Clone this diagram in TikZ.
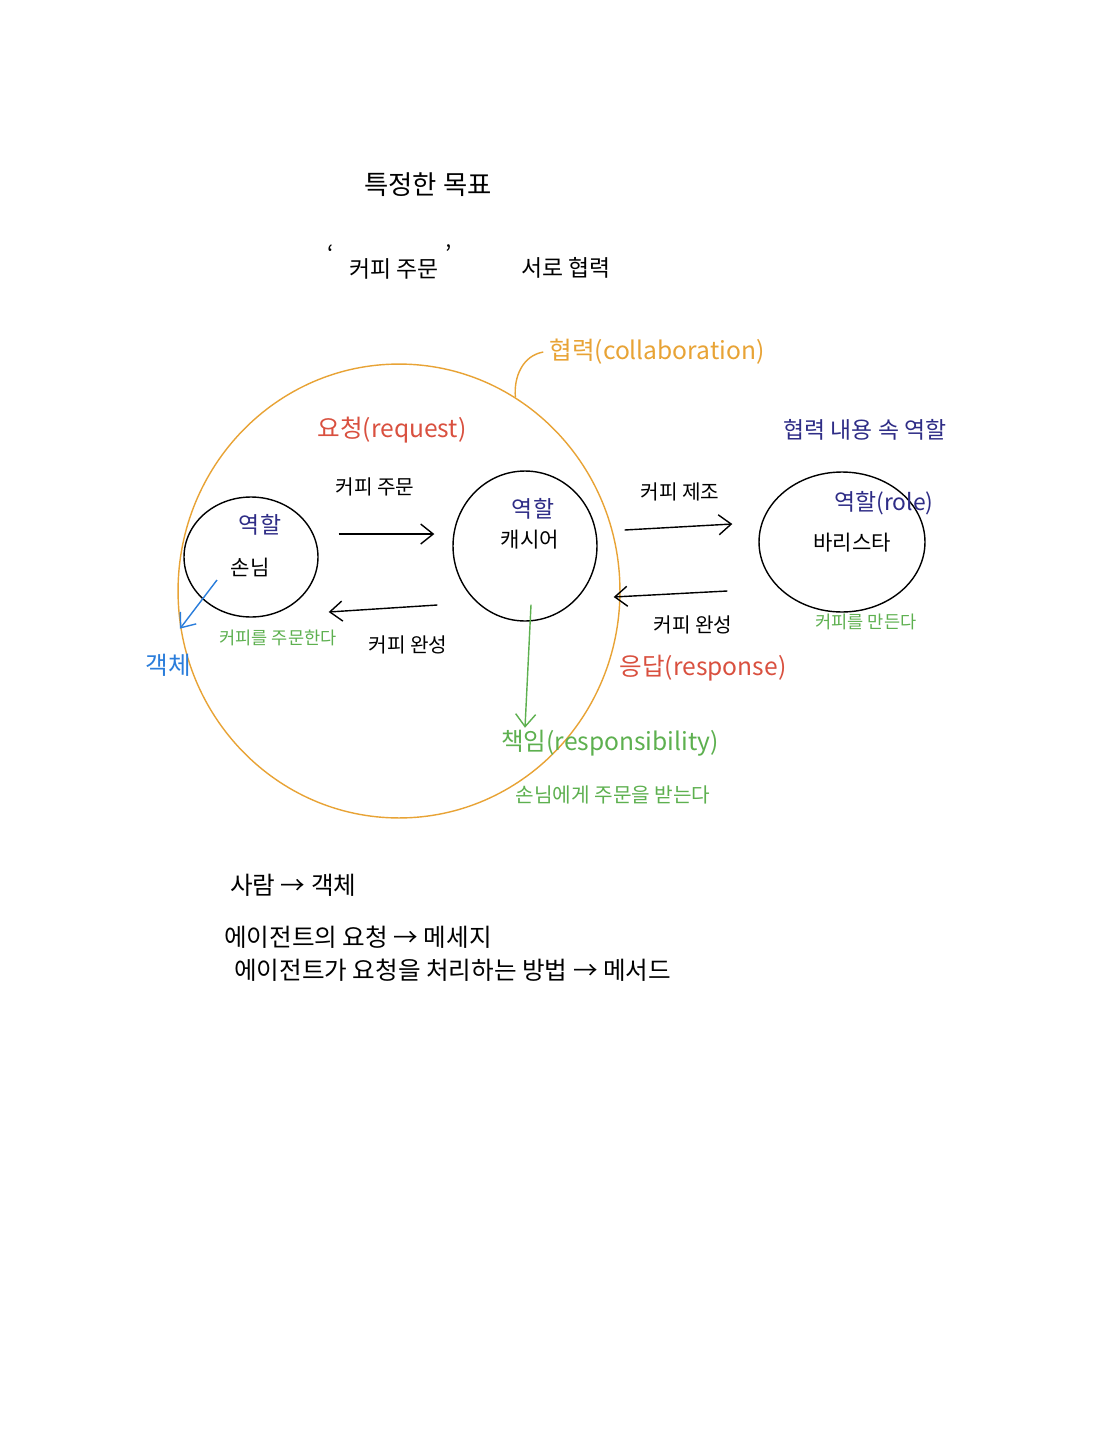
\documentclass[tikz,border=0pt]{standalone}
\usepackage{fontspec}
\setmainfont{Noto Sans CJK KR}
\usepackage{tikz}
\usetikzlibrary{positioning, arrows.meta, shapes.geometric, calc}
\definecolor{collabor}{HTML}{E8A335}
\definecolor{reqred}{HTML}{D9503F}
\definecolor{rolepurple}{HTML}{2E2C86}
\definecolor{dutygreen}{HTML}{5DB04F}
\definecolor{objblue}{HTML}{2A7DDB}

\begin{document}
\begin{tikzpicture}[x=0.02cm, y=-0.02cm,
    rolecircle/.style={draw=black, line width=0.8pt, ellipse, inner sep=0pt},
    collabcircle/.style={draw=collabor, line width=0.8pt, ellipse, inner sep=0pt},
    titletxt/.style={font=\fontsize{15}{17}\selectfont},
    midtxt/.style={font=\fontsize{13}{15}\selectfont},
    smalltxt/.style={font=\fontsize{11.5}{13}\selectfont},
    roletxt/.style={text=rolepurple, font=\fontsize{13}{15}\selectfont},
    nametxt/.style={font=\fontsize{12}{14}\selectfont},
    labeltxt/.style={font=\fontsize{14}{16}\selectfont},
    dutytxt/.style={text=dutygreen, font=\fontsize{10}{12}\selectfont},
    notetxt/.style={anchor=west, font=\fontsize{14}{16}\selectfont},
    msgarrow/.style={-{Straight Barb[length=2.5mm, width=4mm]}, line width=0.8pt},
]
\fill[white] (0,0) rectangle (1112,1440);
\useasboundingbox (0,0) rectangle (1112,1440);

% goal
\node[titletxt] (goal) at (428,185) {특정한 목표};
\node[midtxt] (order) at (390,262) {\raisebox{0.3cm}{‘}\hspace{0.3cm}커피 주문\hspace{0.15cm}\raisebox{0.3cm}{’}};
\node[midtxt] (coop) at (566,268) {서로 협력};

% collaboration
\node[collabcircle, minimum width=8.84cm, minimum height=9.08cm] (collab) at (399,591) {};
\node[labeltxt, text=collabor] (collabLbl) at (657,352) {협력(collaboration)};
\draw[collabor, line width=0.8pt] (collab.59) to[out=95, in=190] (collabLbl.west);

% roles
\node[rolecircle, minimum width=2.68cm, minimum height=2.4cm] (guest) at (251,557) {};
\node[roletxt] (guestRole) at (260,525) {역할};
\node[nametxt] (guestName) at (250,567) {손님};

\node[rolecircle, minimum width=2.88cm, minimum height=3.0cm] (cashier) at (525,546) {};
\node[roletxt] (cashierRole) at (533,509) {역할};
\node[nametxt] (cashierName) at (530,540) {캐시어};

\node[rolecircle, minimum width=3.32cm, minimum height=2.8cm] (barista) at (842,542) {};
\node[roletxt] (baristaRole) at (884,503) {역할(role)};
\node[nametxt] (baristaName) at (852,543) {바리스타};

\node[roletxt] (inRole) at (865,430) {협력 내용 속 역할};
\node[labeltxt, text=reqred] (req) at (392,430) {요청(request)};
\node[labeltxt, text=reqred] (res) at (703,668) {응답(response)};

% messages
\node[smalltxt] (msgOrder) at (375,487) {커피 주문};
\node[smalltxt] (msgMake) at (680,492) {커피 제조};
\node[smalltxt] (msgDone) at (408,645) {커피 완성};
\node[smalltxt] (msgReady) at (693,625) {커피 완성};

\draw[msgarrow] ($(guest.east)+(20,-23)$) -- ($(cashier.west)+(-18,-12)$);
\draw[msgarrow] ($(cashier.west)+(-15,59)$) -- ($(guest.east)+(10,55)$);
\draw[msgarrow] ($(cashier.east)+(27,-16)$) -- ($(barista.west)+(-26,-18)$);
\draw[msgarrow] ($(barista.west)+(-31,49)$) -- ($(cashier.east)+(16,51)$);

% responsibilities
\node[dutytxt] (guestDuty) at (278,638) {커피를 주문한다};
\node[dutytxt] (baristaDuty) at (866,622) {커피를 만든다};
\node[labeltxt, text=dutygreen] (resp) at (610,743) {책임(responsibility)};
\node[labeltxt, text=dutygreen, font=\fontsize{11.5}{13}\selectfont] (respText) at (613,795) {손님에게 주문을 받는다};
\draw[msgarrow, dutygreen] ($(cashier.south)+(6,-17)$) -- ($(resp.north west -| cashier.south)+(0,4)$);

\node[labeltxt, text=objblue] (obj) at (168,665) {객체};
\draw[msgarrow, objblue] ($(guest.center)+(-34,23)$) -- ($(obj.north)+(12,-19)$);

% notes
\node[notetxt] (note1) at (224,885) {사람 → 객체};
\node[notetxt] (note2) at (218,937) {에이전트의 요청 → 메세지};
\node[notetxt] (note3) at (228,970) {에이전트가 요청을 처리하는 방법 → 메서드};
\end{tikzpicture}
\end{document}
